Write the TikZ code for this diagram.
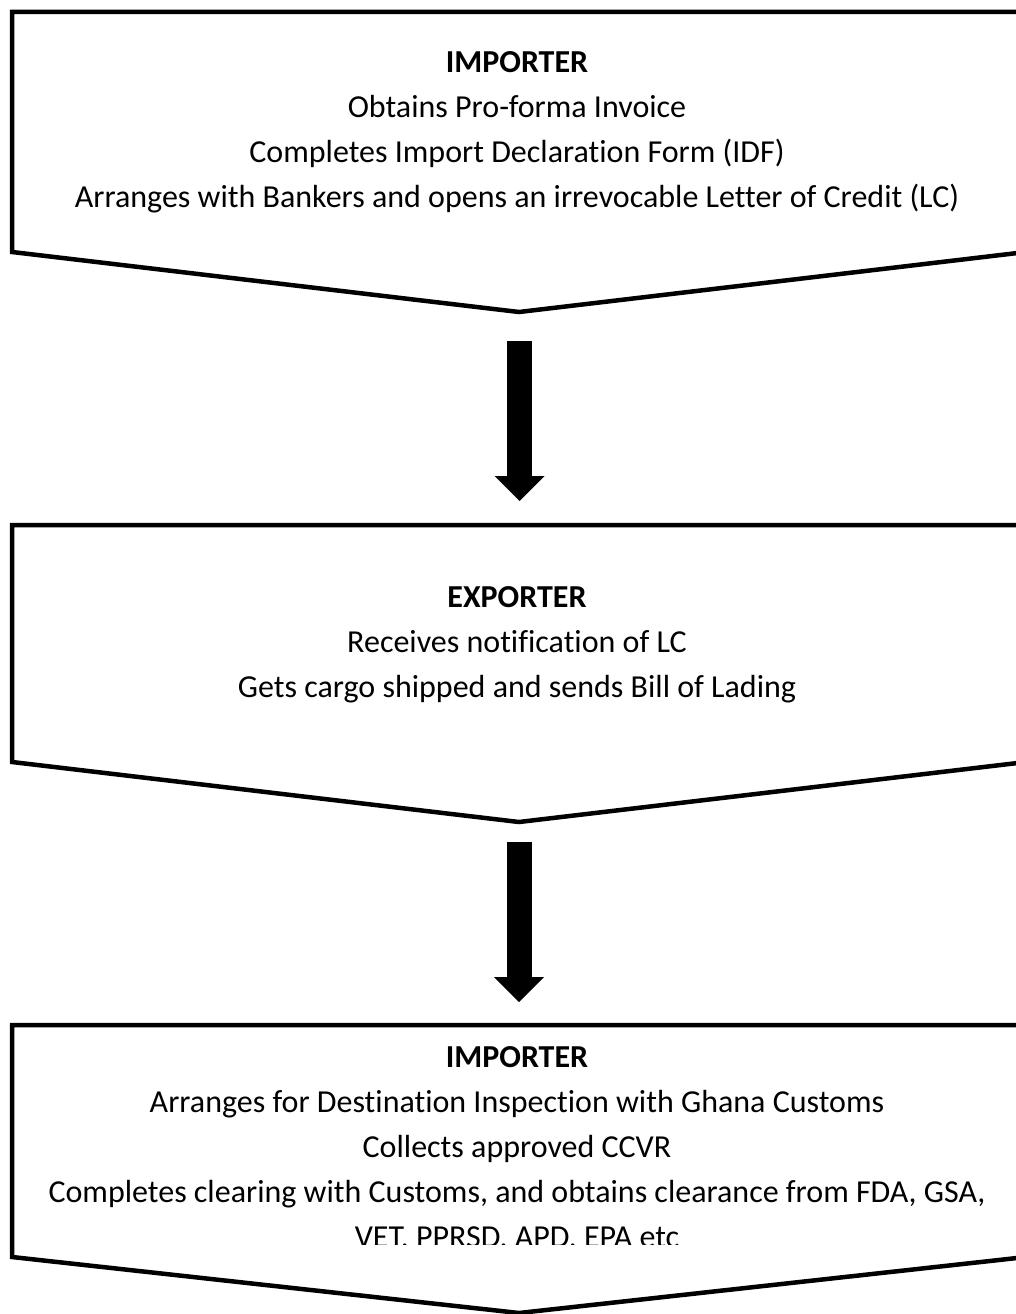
\documentclass[tikz,border=0pt]{standalone}
\usepackage{fontspec}
\setmainfont{Carlito}[Ligatures=NoCommon]
\usetikzlibrary{arrows.meta}
\begin{document}
\begin{tikzpicture}[x=1pt,y=-1pt,
  flowbox/.style={draw=black, line width=4.5pt, line join=miter, fill=white},
  txt/.style={anchor=base, inner sep=0pt, font=\fontsize{32}{38}\selectfont},
  headtxt/.style={txt, font=\fontsize{32}{38}\selectfont\bfseries},
  bigarrow/.style={draw=black, line width=25pt, -{Triangle[width=50pt,length=25pt,line width=0pt]}}]
\useasboundingbox (0,0) rectangle (1016,1314);
\clip (0,0) rectangle (1016,1314);
\fill[white] (0,0) rectangle (1016,1314);
% box 1
\draw[flowbox] (12,12) -- (1026,12) -- (1026,252) -- (519,312) -- (12,252) -- cycle;
\node[headtxt] (b1h) at (517,72) {IMPORTER};
\node[txt] (b1l1) at (517,117) {Obtains Pro-forma Invoice};
\node[txt] (b1l2) at (517,162) {Completes Import Declaration Form (IDF)};
\node[txt] (b1l3) at (517,207) {Arranges with Bankers and opens an irrevocable Letter of Credit (LC)};
% arrow 1
\coordinate (a1s) at (519.5,341);
\coordinate (a1e) at (519.5,501);
\draw[bigarrow] (a1s) -- (a1e);
% box 2
\draw[flowbox] (12,525) -- (1026,525) -- (1026,762) -- (519,822) -- (12,762) -- cycle;
\node[headtxt] (b2h) at (517,607) {EXPORTER};
\node[txt] (b2l1) at (517,652) {Receives notification of LC};
\node[txt] (b2l2) at (517,697) {Gets cargo shipped and sends Bill of Lading};
% arrow 2
\coordinate (a2s) at (519,842);
\coordinate (a2e) at (519,1002);
\draw[bigarrow] (a2s) -- (a2e);
% box 3
\draw[flowbox] (12,1025) -- (1026,1025) -- (1026,1257) -- (519,1313) -- (12,1257) -- cycle;
\node[headtxt] (b3h) at (517,1067) {IMPORTER};
\node[txt] (b3l1) at (517,1112) {Arranges for Destination Inspection with Ghana Customs};
\node[txt] (b3l2) at (517,1157) {Collects approved CCVR};
\node[txt] (b3l3) at (517,1202) {Completes clearing with Customs, and obtains clearance from FDA, GSA,};
\begin{scope}
\clip (0,1000) rectangle (1016,1244);
\node[txt] (b3l4) at (517,1247) {VET, PPRSD, APD, EPA etc};
\end{scope}
\end{tikzpicture}
\end{document}
